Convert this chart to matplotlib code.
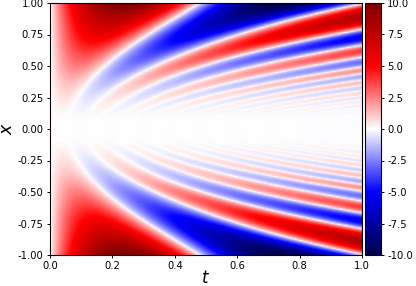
import numpy as np
import matplotlib
matplotlib.use("Agg")
import matplotlib.pyplot as plt

x_rows = [0.1, 0.2, 0.3, 0.4, 0.5, 0.6, 0.7, 0.8, 0.9, 1.0]
# t position of successive white curves at each row of |x|
zeros_x10 = [.06, .12, .16, .21, .26, .31, .36, .41, .46, .51, .56, .61, .67, .73, .79, .85]
zeros_x20 = [.075, .15, .22, .29, .36, .43, .50, .57, .65, .73, .81, .90, 1.0, 1.1, 1.2, 1.3]
zeros_x30 = [.098, .19, .28, .375, .47, .57, .68, .79, .90, 1.02, 1.15, 1.28, 1.42, 1.56, 1.7, 1.85]
zeros_x40 = [.132, .247, .375, .50, .62, .74, .86, .98, 1.11, 1.25, 1.39, 1.54, 1.7, 1.86, 2.03, 2.2]
zeros_x50 = [.18, .34, .49, .65, .83, 1.03, 1.2, 1.38, 1.57, 1.77, 1.98, 2.2, 2.42, 2.65, 2.9, 3.15]
zeros_x60 = [.223, .435, .625, .86, 1.08, 1.3, 1.53, 1.78, 2.04, 2.3, 2.6, 2.9, 3.2, 3.5, 3.85, 4.2]
zeros_x70 = [.275, .535, .815, 1.07, 1.35, 1.63, 1.93, 2.25, 2.6, 2.95, 3.3, 3.7, 4.1, 4.5, 5.0, 5.5]
zeros_x80 = [.345, .66, 1.01, 1.33, 1.65, 2.0, 2.4, 2.8, 3.2, 3.65, 4.1, 4.6, 5.1, 5.6, 6.2, 6.8]
zeros_x90 = [.415, .83, 1.25, 1.62, 2.0, 2.4, 2.9, 3.4, 3.9, 4.4, 5.0, 5.5, 6.1, 6.8, 7.5, 8.2]
zeros_x100 = [.475, 1.0, 1.5, 1.9, 2.4, 2.9, 3.4, 4.0, 4.6, 5.2, 5.85, 6.5, 7.2, 7.9, 8.6, 9.3]
zero_table = [zeros_x10, zeros_x20, zeros_x30, zeros_x40, zeros_x50,
              zeros_x60, zeros_x70, zeros_x80, zeros_x90, zeros_x100]

# peak magnitude of the lobes at each |x|
amp_x = [0.0, 0.1, 0.2, 0.3, 0.4, 0.5, 0.6, 0.7, 0.8, 0.9, 1.0]
amp_val = [0.0, 0.06, 0.35, 0.8, 1.5, 2.5, 3.6, 5.0, 6.5, 8.2, 10.2]

x_ticks = [-1.0, -0.75, -0.5, -0.25, 0.0, 0.25, 0.5, 0.75, 1.0]
t_ticks = [0.0, 0.2, 0.4, 0.6, 0.8, 1.0]
c_ticks = [-10.0, -7.5, -5.0, -2.5, 0.0, 2.5, 5.0, 7.5, 10.0]

# build the field on a grid: each read-off curve is smoothed over |x|
t_grid = np.linspace(0, 1, 201)
x_grid = np.linspace(-1, 1, 201)
zt = np.array(zero_table)
n_curves = zt.shape[1]
fits = [np.polyfit(x_rows, zt[:, k], 4) for k in range(n_curves)]
field = np.zeros((x_grid.size, t_grid.size))
order = np.arange(n_curves + 1)
for i, xv in enumerate(x_grid):
    ax_ = max(abs(xv), 0.1)
    zs = np.array([np.polyval(f, ax_) for f in fits])
    zs = np.maximum.accumulate(np.concatenate([[0.0], zs]))
    phase = np.interp(t_grid, zs, order)
    s = np.sin(np.pi * phase)
    field[i] = np.interp(abs(xv), amp_x, amp_val) * np.sign(s) * np.abs(s) ** 0.8

W, H = 416, 286
fig = plt.figure(figsize=(W / 100, H / 100), dpi=100)
ax = fig.add_axes([50 / W, 1 - 255 / H, 312 / W, 252 / H])
im = ax.imshow(field, origin="lower", extent=[0, 1, -1, 1], aspect="auto",
               cmap="seismic", vmin=-10, vmax=10, interpolation="bilinear")
ax.set_xticks(t_ticks)
ax.set_yticks(x_ticks)
ax.set_xticklabels([f"{v:.1f}" for v in t_ticks])
ax.set_yticklabels([f"{v:.2f}" for v in x_ticks])
ax.tick_params(labelsize=7.2, length=2.5, width=0.7, pad=2)
ax.set_xlabel(r"$t$", fontsize=12, labelpad=-1.5)
ax.set_ylabel(r"$x$", fontsize=12.5, labelpad=1)
for s_ in ax.spines.values():
    s_.set_linewidth(0.8)

cax = fig.add_axes([365 / W, 1 - 255 / H, 16 / W, 252 / H])
cb = fig.colorbar(im, cax=cax, ticks=c_ticks)
cb.ax.set_yticklabels([f"{v:.1f}" for v in c_ticks])
cb.ax.tick_params(labelsize=7.2, length=2.5, width=0.7, pad=2)
cb.outline.set_linewidth(0.8)

fig.savefig("out.png", dpi=100)
